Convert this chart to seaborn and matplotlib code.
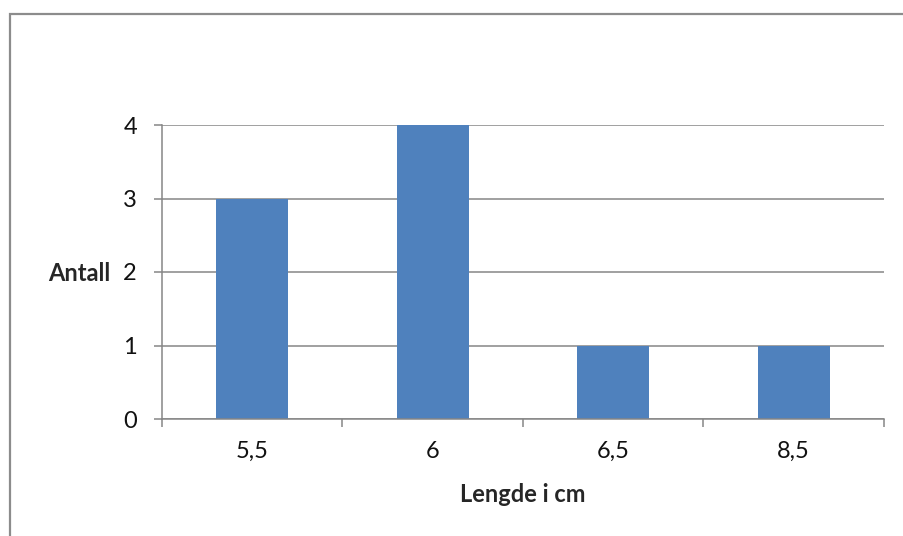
import matplotlib
matplotlib.use("Agg")
import matplotlib.pyplot as plt
from matplotlib.patches import Rectangle
from matplotlib.ticker import FixedLocator
import seaborn as sns
import pandas as pd

# Length measurements (cm) and how many of each
lengths = ["5,5", "6", "6,5", "8,5"]
counts = [3, 4, 1, 1]
y_ticks = [0, 1, 2, 3, 4]

BAR = "#4F81BD"
GRID = "#868686"

sns.set_theme(style="white")
plt.rcParams["font.family"] = ["Lato", "DejaVu Sans"]

df = pd.DataFrame({"Lengde": lengths, "Antall": counts})

fig = plt.figure(figsize=(9.04, 5.36), dpi=100)
ax = fig.add_axes([162 / 904, 1 - 419 / 536, (884 - 162) / 904, (419 - 125) / 536])

sns.barplot(data=df, x="Lengde", y="Antall", color=BAR, width=0.4,
            saturation=1, ax=ax, order=lengths, linewidth=0)

ax.set_xlim(-0.5, len(lengths) - 0.5)
ax.set_ylim(0, 4)
ax.set_axisbelow(True)

# horizontal gridlines
ax.set_yticks(y_ticks)
ax.set_yticklabels([str(t) for t in y_ticks], fontsize=17, color="#111111")
ax.yaxis.grid(True, color=GRID, linewidth=1.1)
ax.tick_params(axis="y", length=6, width=1.1, color=GRID, pad=12, left=True)

# category labels centred, tick marks at category boundaries
ax.set_xticks(range(len(lengths)))
ax.set_xticklabels(lengths, fontsize=17, color="#111111")
ax.xaxis.set_minor_locator(FixedLocator([i - 0.5 for i in range(len(lengths) + 1)]))
ax.tick_params(axis="x", which="major", length=0, pad=16)
ax.tick_params(axis="x", which="minor", length=6, width=1.1, color=GRID, bottom=True)

for side in ["top", "right"]:
    ax.spines[side].set_visible(False)
for side in ["left", "bottom"]:
    ax.spines[side].set_color(GRID)
    ax.spines[side].set_linewidth(1.1)

ax.set_xlabel("Lengde i cm", fontsize=17, fontweight="bold", va="center")
ax.xaxis.set_label_coords(0.5, -(494 - 419) / 294)
ax.set_ylabel("")
fig.text(79 / 904, 1 - 273 / 536, "Antall", fontsize=17, fontweight="bold",
         ha="center", va="center")

# chart frame
fig.patches.append(Rectangle((9.5 / 904, -0.1), 1.2, 1 - 13.5 / 536 + 0.1,
                             transform=fig.transFigure, fill=False,
                             edgecolor="#8C8C8C", linewidth=1.6))

fig.savefig("out.png", dpi=100, facecolor="white")
